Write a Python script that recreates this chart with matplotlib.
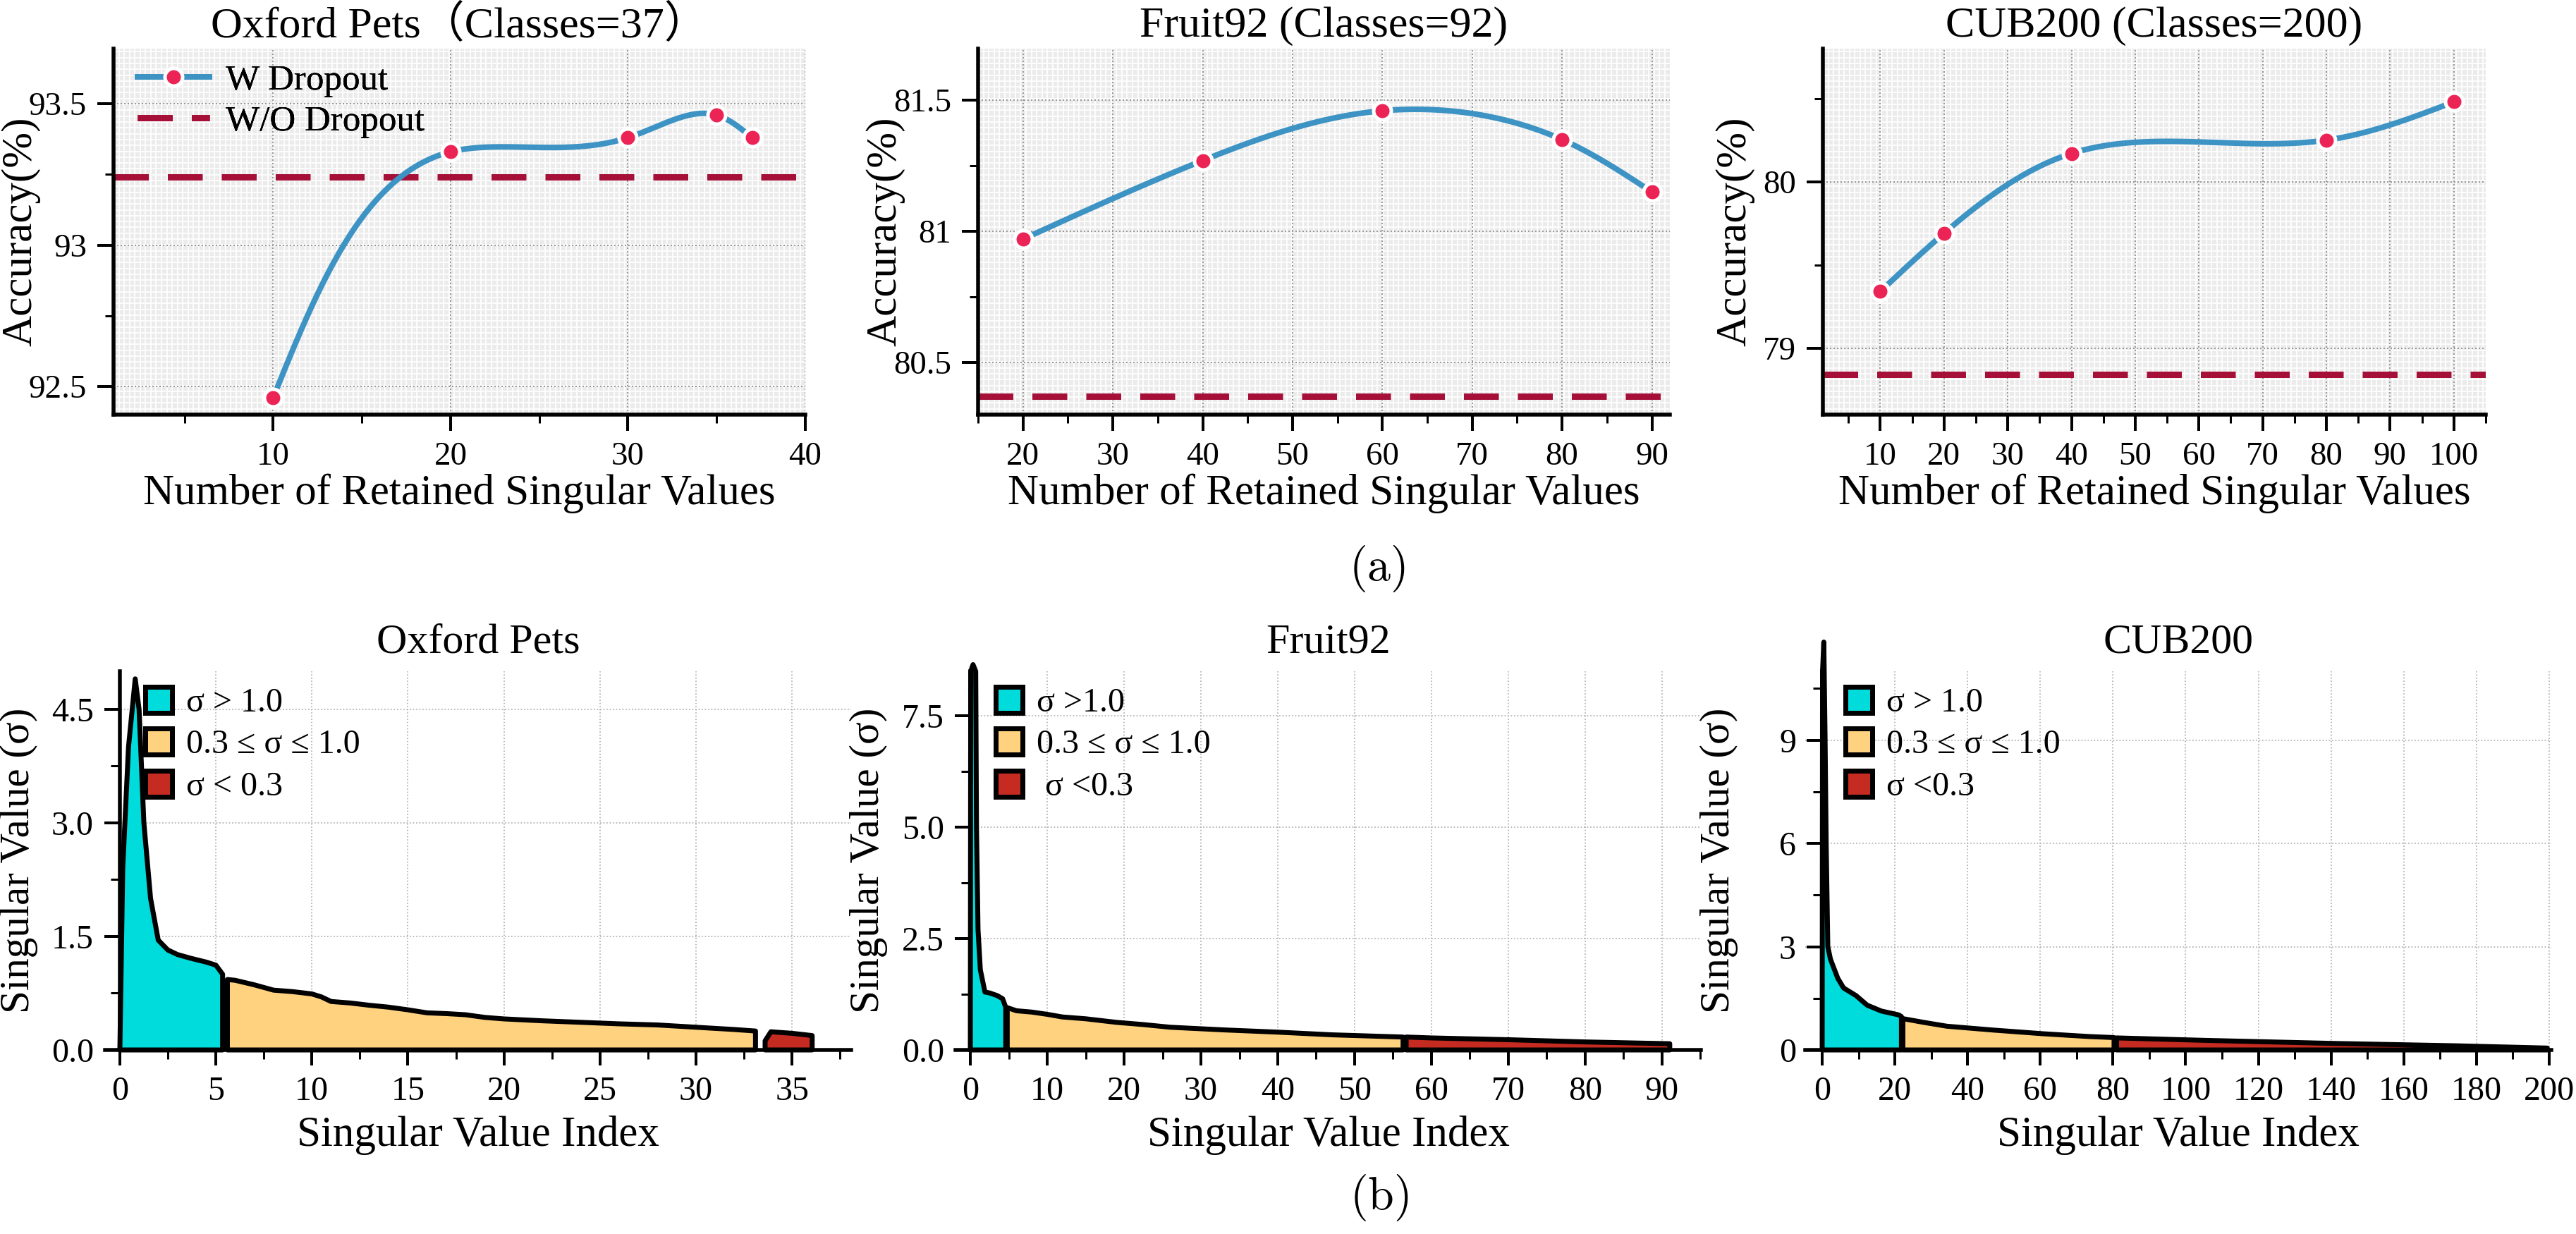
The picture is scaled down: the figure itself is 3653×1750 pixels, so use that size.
import numpy as np
import matplotlib
matplotlib.use('Agg')
import matplotlib.pyplot as plt
from matplotlib.lines import Line2D
from matplotlib.patches import Patch
from matplotlib.ticker import MultipleLocator, FormatStrFormatter
from matplotlib.collections import LineCollection

plt.rcParams['font.family'] = ['Liberation Serif', 'DejaVu Serif', 'Noto Sans CJK SC']
plt.rcParams['mathtext.fontset'] = 'cm'

W, H, DPI = 3653, 1750, 100

# ---------------- data: (a) accuracy vs retained singular values ----------------
pets_k = [10, 20, 30, 35, 37]
pets_acc = [92.46, 93.33, 93.38, 93.46, 93.38]
pets_base = 93.24

fruit_k = [20, 40, 60, 80, 90]
fruit_acc = [80.97, 81.27, 81.46, 81.35, 81.15]
fruit_base = 80.37

cub_k = [10, 20, 40, 80, 100]
cub_acc = [79.34, 79.69, 80.17, 80.25, 80.48]
cub_base = 78.84

top_titles = ['Oxford Pets（Classes=37）', 'Fruit92 (Classes=92)', 'CUB200 (Classes=200)']
legend_a = ['W Dropout', 'W/O Dropout']

# ---------------- data: (b) singular value spectra (three ranges) ----------------
pets_hi_x = [0, 0.15, 0.45, 0.8, 1.0, 1.25, 1.6, 2.0, 2.5, 3.0, 3.7, 4.5, 5.0, 5.35]
pets_hi_y = [0, 2.4, 4.0, 4.9, 4.5, 3.0, 2.0, 1.45, 1.32, 1.26, 1.21, 1.16, 1.12, 1.0]
pets_mid_x = [5.6, 6, 7, 8, 9, 10, 10.5, 11, 12, 13, 14, 15, 16, 17, 18, 19, 20, 22, 24, 26, 28, 30, 32, 33.1]
pets_mid_y = [0.93, 0.92, 0.86, 0.79, 0.77, 0.74, 0.70, 0.64, 0.62, 0.59, 0.565, 0.53, 0.49, 0.48,
              0.465, 0.43, 0.41, 0.385, 0.365, 0.345, 0.33, 0.30, 0.27, 0.25]
pets_lo_x = [33.6, 33.9, 35, 36.05]
pets_lo_y = [0.12, 0.24, 0.22, 0.19]

fruit_hi_x = [0, 0.05, 0.35, 0.7, 0.8, 1.0, 1.3, 1.9, 2.5, 3.5, 4.2, 4.6]
fruit_hi_y = [0, 8.5, 8.65, 8.5, 5.0, 2.7, 1.8, 1.3, 1.28, 1.22, 1.15, 0.96]
fruit_mid_x = [4.8, 6, 8, 10, 12, 15, 19, 22.5, 26, 33, 40, 47, 56.3]
fruit_mid_y = [0.95, 0.88, 0.85, 0.80, 0.74, 0.70, 0.62, 0.57, 0.51, 0.45, 0.40, 0.34, 0.29]
fruit_lo_x = [56.7, 60, 70, 80, 91.0]
fruit_lo_y = [0.29, 0.27, 0.23, 0.18, 0.14]

cub_hi_x = [0, 0.1, 0.45, 0.8, 1.1, 1.55, 2.3, 4.3, 5.9, 9.3, 12.4, 16.3, 21.0, 21.8]
cub_hi_y = [0, 11.0, 11.85, 9.0, 6.0, 3.0, 2.63, 2.08, 1.8, 1.58, 1.3, 1.13, 1.02, 0.97]
cub_mid_x = [22.2, 28, 34.3, 46.8, 60.9, 73.4, 80.3]
cub_mid_y = [0.91, 0.80, 0.69, 0.58, 0.47, 0.39, 0.36]
cub_lo_x = [81.0, 104.9, 140.6, 174.9, 199.5]
cub_lo_y = [0.35, 0.28, 0.19, 0.12, 0.055]

bottom_titles = ['Oxford Pets', 'Fruit92', 'CUB200']
legend_b = [['σ > 1.0', '0.3 ≤ σ ≤ 1.0', 'σ < 0.3'],
            ['σ >1.0', '0.3 ≤ σ ≤ 1.0', ' σ <0.3'],
            ['σ > 1.0', '0.3 ≤ σ ≤ 1.0', 'σ <0.3']]

# ---------------- styles ----------------
BLUE = '#3D93C3'
PINK = '#EC2456'
DARKRED = '#A50F38'
CYAN = '#00DCDC'
YELLOW = '#FFD27F'
RED = '#C62B22'
BG = '#EBEBEB'
PX = 72.0 / DPI  # points per pixel

fig = plt.figure(figsize=(W / DPI, H / DPI), dpi=DPI)


def add_axes_px(l, t, r, b):
    return fig.add_axes([l / W, 1 - b / H, (r - l) / W, (b - t) / H])


def natural_cubic(t, y, tt):
    n = len(t)
    h = np.diff(t)
    A = np.zeros((n, n))
    rhs = np.zeros(n)
    A[0, 0] = 1
    A[-1, -1] = 1
    for i in range(1, n - 1):
        A[i, i - 1] = h[i - 1]
        A[i, i] = 2 * (h[i - 1] + h[i])
        A[i, i + 1] = h[i]
        rhs[i] = 6 * ((y[i + 1] - y[i]) / h[i] - (y[i] - y[i - 1]) / h[i - 1])
    M = np.linalg.solve(A, rhs)
    idx = np.clip(np.searchsorted(t, tt) - 1, 0, n - 2)
    hi = h[idx]
    a = t[idx + 1] - tt
    b = tt - t[idx]
    return (M[idx] * a ** 3 / (6 * hi) + M[idx + 1] * b ** 3 / (6 * hi)
            + (y[idx] / hi - M[idx] * hi / 6) * a + (y[idx + 1] / hi - M[idx + 1] * hi / 6) * b)


def smooth_curve(xp, yp, sx, sy, n=600):
    X = np.asarray(xp, float) * sx
    Y = np.asarray(yp, float) * sy
    d = np.hypot(np.diff(X), np.diff(Y))
    t = np.concatenate([[0], np.cumsum(d)])
    tt = np.linspace(0, t[-1], n)
    return natural_cubic(t, X, tt) / sx, natural_cubic(t, Y, tt) / sy


LINE_W = 8 * PX
MARK_S = 25 * PX
MARK_EW = 5 * PX
DASH_W = 9 * PX
OUTLINE_W = 7 * PX

# ---------------- top row ----------------
top_boxes = [(161, 69, 1142, 588), (1387, 69, 2368, 588), (2585, 69, 3525, 588)]
top_data = [(pets_k, pets_acc, pets_base), (fruit_k, fruit_acc, fruit_base), (cub_k, cub_acc, cub_base)]
top_lims = [((1, 40), (92.4, 93.695), 10, 5, 0.5, 0.25),
            ((15, 92), (80.3, 81.697), 10, 5, 0.5, 0.25),
            ((1, 105), (78.6, 80.8), 10, 5, 1.0, 0.5)]
top_ylabel_x = [29, 1255, 2460]

for i, (box, (k, acc, base), lims) in enumerate(zip(top_boxes, top_data, top_lims)):
    l, t, r, b = box
    wpx, hpx = r - l, b - t
    ax = add_axes_px(*box)
    (x0, x1), (y0, y1), xmaj, xmin, ymaj, ymin = lims
    ax.set_xlim(x0, x1)
    ax.set_ylim(y0, y1)
    ax.set_facecolor(BG)
    ax.set_axisbelow(True)
    # fine white background grid
    segs = []
    for xf in np.arange(7.55, wpx, 7.55) / wpx:
        segs.append([(xf, 0), (xf, 1)])
    for yf in np.arange(8.3, hpx, 8.3) / hpx:
        segs.append([(0, yf), (1, yf)])
    lc = LineCollection(segs, colors='white', linewidths=1.8 * PX, transform=ax.transAxes, zorder=0.3)
    ax.add_collection(lc)
    ax.grid(True, which='major', linestyle=(0, (1, 1.5)), color='#9A9A9A', linewidth=2.0 * PX)

    sx = wpx / (x1 - x0)
    sy = hpx / (y1 - y0)
    cx, cy = smooth_curve(k, acc, sx, sy)
    ax.plot(cx, cy, color=BLUE, lw=LINE_W, zorder=3, solid_capstyle='round')
    ax.plot(k, acc, linestyle='none', marker='o', markersize=MARK_S,
            mfc=PINK, mec='white', mew=MARK_EW, zorder=4, clip_on=False)
    ax.axhline(base, color=DARKRED, lw=DASH_W, dashes=(5.5, 3.0), zorder=2)

    for s in ['top', 'right']:
        ax.spines[s].set_visible(False)
    for s in ['left', 'bottom']:
        ax.spines[s].set_linewidth(5.5 * PX)
    ax.xaxis.set_major_locator(MultipleLocator(xmaj))
    ax.xaxis.set_minor_locator(MultipleLocator(xmin))
    ax.yaxis.set_major_locator(MultipleLocator(ymaj))
    ax.yaxis.set_minor_locator(MultipleLocator(ymin))
    ax.yaxis.set_major_formatter(FormatStrFormatter('%g'))
    ax.tick_params(which='major', direction='out', length=23 * PX, width=4 * PX, labelsize=47 * PX, pad=15 * PX)
    ax.tick_params(which='minor', direction='out', length=12 * PX, width=3 * PX)

    ax.set_xlabel('Number of Retained Singular Values', fontsize=61 * PX)
    ax.xaxis.label.set_va('center')
    ax.xaxis.set_label_coords(0.5, (b - 700) / hpx)
    ax.set_ylabel('Accuracy(%)', fontsize=61 * PX)
    ax.yaxis.label.set_va('center')
    ax.yaxis.set_label_coords((top_ylabel_x[i] - l) / wpx, 0.5)
    ax.text(0.5, 1 + (t - 37) / hpx, top_titles[i], transform=ax.transAxes, ha='center', va='center',
            fontsize=62 * PX)

    handles = [Line2D([], [], color=BLUE, lw=LINE_W, marker='o', markersize=MARK_S, mfc=PINK,
                      mec='white', mew=MARK_EW),
               Line2D([], [], color=DARKRED, lw=DASH_W, dashes=(5.5, 3.0))]
    ax.legend(handles, legend_a, loc='upper left', bbox_to_anchor=((195 - l) / wpx, 1 - 22 / hpx),
              frameon=False, fontsize=51 * PX, handlelength=2.0, handletextpad=0.45, borderpad=0,
              borderaxespad=0, labelspacing=0.22)

# ---------------- bottom row ----------------
bot_boxes = [(149, 952, 1207, 1489), (1355, 952, 2412, 1489), (2560, 952, 3618, 1489)]
bot_regions = [[(pets_hi_x, pets_hi_y), (pets_mid_x, pets_mid_y), (pets_lo_x, pets_lo_y)],
               [(fruit_hi_x, fruit_hi_y), (fruit_mid_x, fruit_mid_y), (fruit_lo_x, fruit_lo_y)],
               [(cub_hi_x, cub_hi_y), (cub_mid_x, cub_mid_y), (cub_lo_x, cub_lo_y)]]
bot_lims = [((-0.77, 38.08), (0, 5.0), 5, 2.5, 1.5, 0.75, '%.1f'),
            ((-1.93, 95.05), (0, 8.5), 10, 5, 2.5, 1.25, '%.1f'),
            ((-4.66, 200.6), (0, 11.0), 20, 10, 3, 1.5, '%d')]
bot_ylabel_x = [27, 1232, 2438]
colors = [CYAN, YELLOW, RED]

for i, (box, regions, lims) in enumerate(zip(bot_boxes, bot_regions, bot_lims)):
    l, t, r, b = box
    wpx, hpx = r - l, b - t
    ax = add_axes_px(*box)
    (x0, x1), (y0, y1), xmaj, xmin, ymaj, ymin, fmt = lims
    ax.set_xlim(x0, x1)
    ax.set_ylim(y0, y1)
    ax.set_axisbelow(True)
    ax.grid(True, which='major', linestyle=(0, (1, 1.5)), color='#B5B5B5', linewidth=1.8 * PX)
    for (rx, ry), c in zip(regions, colors):
        px_ = [rx[0]] + list(rx) + [rx[-1]]
        py_ = [0] + list(ry) + [0]
        ax.fill(px_, py_, facecolor=c, edgecolor='black', linewidth=OUTLINE_W, joinstyle='round',
                zorder=3, clip_on=False)
    for s in ['top', 'right']:
        ax.spines[s].set_visible(False)
    ax.spines['left'].set_position(('data', 0))
    for s in ['left', 'bottom']:
        ax.spines[s].set_linewidth(5.5 * PX)
        ax.spines[s].set_zorder(4)
    ax.xaxis.set_major_locator(MultipleLocator(xmaj))
    ax.xaxis.set_minor_locator(MultipleLocator(xmin))
    ax.yaxis.set_major_locator(MultipleLocator(ymaj))
    ax.yaxis.set_minor_locator(MultipleLocator(ymin))
    ax.yaxis.set_major_formatter(FormatStrFormatter(fmt))
    ax.tick_params(which='major', direction='out', length=22 * PX, width=4 * PX, labelsize=48 * PX, pad=15 * PX)
    ax.tick_params(which='minor', direction='out', length=13 * PX, width=3 * PX)

    ax.set_xlabel('Singular Value Index', fontsize=61 * PX)
    ax.xaxis.label.set_va('center')
    ax.xaxis.set_label_coords(0.5, (b - 1610) / hpx)
    ax.set_ylabel('Singular Value (σ)', fontsize=59 * PX)
    ax.yaxis.label.set_va('center')
    ax.yaxis.set_label_coords((bot_ylabel_x[i] - l) / wpx, 0.5)
    ax.text(0.5, 1 + (t - 912) / hpx, bottom_titles[i], transform=ax.transAxes, ha='center', va='center',
            fontsize=60 * PX)

    handles = [Patch(facecolor=c, edgecolor='black', linewidth=OUTLINE_W) for c in colors]
    ax.legend(handles, legend_b[i], loc='upper left', bbox_to_anchor=((206 - 149) / wpx, 1 - 22 / hpx),
              frameon=False, fontsize=48 * PX, handlelength=0.8, handleheight=0.8, handletextpad=0.4,
              borderpad=0, borderaxespad=0, labelspacing=0.3)

fig.text(1953 / W, 1 - 806 / H, r'$\mathrm{(a)}$', ha='center', va='center', fontsize=66 * PX)
fig.text(1956 / W, 1 - 1698 / H, r'$\mathrm{(b)}$', ha='center', va='center', fontsize=66 * PX)

fig.savefig('out.png', dpi=DPI)
